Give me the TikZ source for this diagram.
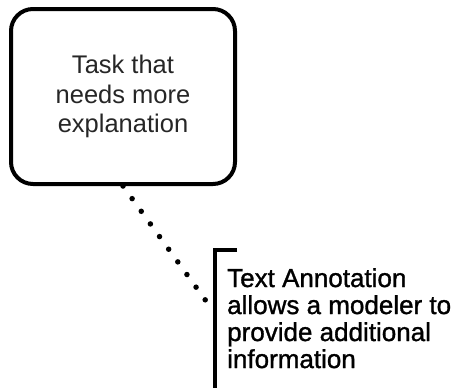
\documentclass[tikz,border=0pt]{standalone}
\usepackage{fontspec}
\setmainfont{Liberation Sans}
\newfontfamily\heavyfont[FakeBold=1.2]{Liberation Sans}
\begin{document}
\begin{tikzpicture}[x=1pt,y=-1pt,
  taskbox/.style={draw=black, line width=4pt, rounded corners=22pt, minimum width=224pt, minimum height=175pt, inner sep=0pt, align=center, text=black!85, font=\fontsize{25.5}{29.5}\selectfont},
  annottext/.style={anchor=north west, align=left, inner sep=0pt, text=black, font=\heavyfont\fontsize{26}{27}\selectfont},
  bracket/.style={draw=black, line width=4pt},
  assoc/.style={draw=black, line width=5.5pt, line cap=round, dash pattern=on 0pt off 15.6pt}]
\useasboundingbox (0,0) rectangle (464,388);
\node[taskbox] (task) at (123,96.5) {Task that\\needs more\\explanation};
\coordinate (brtop) at (215,250);
\coordinate (brend) at (237,250);
\coordinate (brbot) at (215,392);
\coordinate (anchorpt) at (214,312);
\draw[bracket] (brend) -- (brtop) -- (brbot);
\node[annottext] (note) at (227,268) {Text Annotation\\allows a modeler to\\provide additional\\information};
\draw[assoc] (task.south) -- (anchorpt);
\end{tikzpicture}
\end{document}
